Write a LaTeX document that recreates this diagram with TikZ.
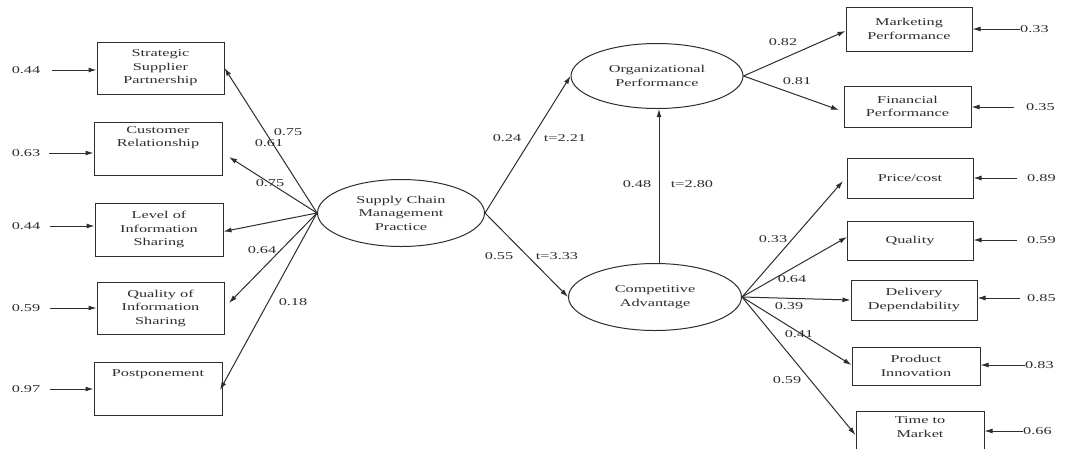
\documentclass[tikz,border=0pt]{standalone}
\usepackage{fontspec}
\setmainfont[FakeStretch=1.55]{Liberation Serif}
\usetikzlibrary{arrows.meta,shapes.geometric}
\definecolor{ink}{HTML}{2E2E2E}
\tikzset{
  every node/.style={text=ink, font=\fontsize{10.5}{13.5}\selectfont},
  line/.style={draw=ink, line width=1pt},
  arr/.style={line, -{Latex[length=8pt,width=5pt]}},
  obs/.style={draw=ink, line width=1pt, rectangle, align=center, inner sep=0pt},
  lat/.style={draw=ink, line width=1pt, ellipse, align=center, inner sep=0pt},
  coef/.style={inner sep=0pt},
  toptext/.style={anchor=north, inner sep=0pt, align=center},
}
\begin{document}
\begin{tikzpicture}[x=1pt,y=-1pt]
\clip (0,0) rectangle (1066,448);
\fill[white] (0,0) rectangle (1066,448);

% latent constructs
\node[lat, minimum width=167, minimum height=67] (scm) at (401,213) {Supply Chain\\Management\\Practice};
\node[lat, minimum width=172, minimum height=65] (op) at (657,76) {Organizational\\Performance};
\node[lat, minimum width=173, minimum height=67] (ca) at (655,297) {Competitive\\Advantage};

% indicators of supply chain management practice
\node[obs, minimum width=127, minimum height=52] (ssp) at (160.5,68) {Strategic\\Supplier\\Partnership};
\node[obs, minimum width=128, minimum height=53] (cr) at (158,148.5) {Customer\\Relationship\\[10pt]};
\node[obs, minimum width=128, minimum height=53] (lis) at (159,229.5) {Level of\\Information\\Sharing};
\node[obs, minimum width=127, minimum height=52] (qis) at (160.5,308) {Quality of\\Information\\Sharing};
\node[obs, minimum width=128, minimum height=53] (pp) at (158,388.5) {};
\node[toptext] at ([yshift=-8pt]pp.north) {Postponement};

% indicators of organizational performance
\node[obs, minimum width=126, minimum height=44] (mp) at (909,29) {Marketing\\Performance};
\node[obs, minimum width=127, minimum height=41] (fp) at (907.5,106.5) {Financial\\Performance};

% indicators of competitive advantage
\node[obs, minimum width=126, minimum height=40] (pc) at (910,178) {Price/cost};
\node[obs, minimum width=126, minimum height=39] (ql) at (910,240.5) {Quality};
\node[obs, minimum width=126, minimum height=40] (dd) at (914,300) {Delivery\\Dependability};
\node[obs, minimum width=128, minimum height=38] (pi) at (916,366) {Product\\Innovation};
\node[obs, minimum width=128, minimum height=44] (tm) at (920,433) {};
\node[toptext] at ([yshift=-6pt]tm.north) {Time to\\Market};

% error terms, left side
\node[coef] (e1) at (26,70) {0.44};
\node[coef] (e2) at (26,153) {0.63};
\node[coef] (e3) at (26,226) {0.44};
\node[coef] (e4) at (26,308) {0.59};
\node[coef] (e5) at (26,389) {0.97};
\draw[arr] ([xshift=12pt]e1.east) -- (ssp.west |- e1);
\draw[arr] ([xshift=9pt]e2.east) -- (cr.west |- e2);
\draw[arr] ([xshift=10pt]e3.east) -- (lis.west |- e3);
\draw[arr] ([xshift=10pt]e4.east) -- (qis.west |- e4);
\draw[arr] ([xshift=10pt]e5.east) -- (pp.west |- e5);

% error terms, right side
\node[coef, anchor=west] (e6) at (1020,29) {0.33};
\node[coef, anchor=west] (e7) at (1026,107) {0.35};
\node[coef, anchor=west] (e8) at (1027,178) {0.89};
\node[coef, anchor=west] (e9) at (1027,240) {0.59};
\node[coef, anchor=west] (e10) at (1027,298) {0.85};
\node[coef, anchor=west] (e11) at (1025,365) {0.83};
\node[coef, anchor=west] (e12) at (1023,431) {0.66};
\draw[arr] (e6.west) -- (mp.east |- e6);
\draw[arr] ([xshift=-12pt]e7.west) -- (fp.east |- e7);
\draw[arr] ([xshift=-10pt]e8.west) -- (pc.east |- e8);
\draw[arr] ([xshift=-10pt]e9.west) -- (ql.east |- e9);
\draw[arr] ([xshift=-7pt]e10.west) -- (dd.east |- e10);
\draw[arr] (e11.west) -- (pi.east |- e11);
\draw[arr] (e12.west) -- (tm.east |- e12);

% loadings of supply chain management practice
\coordinate (tcr) at (229,157);
\coordinate (tqis) at (229,303);
\coordinate (tpp) at (220,390);
\draw[arr] (scm.west) -- (ssp.east);
\draw[arr] (scm.west) -- (tcr);
\draw[arr] (scm.west) -- ([yshift=-2pt]lis.east);
\draw[arr] (scm.west) -- (tqis);
\draw[arr] (scm.west) -- (tpp);
\node[coef] at (288,132) {0.75};
\node[coef] at (269,143) {0.61};
\node[coef] at (270,183) {0.75};
\node[coef] at (262,250) {0.64};
\node[coef] at (293,302) {0.18};

% structural paths
\draw[arr] (scm.east) -- (op.west);
\draw[arr] (scm.east) -- (ca.west);
\draw[arr] (ca.north -| 659,0) -- (op.south -| 659,0);
\node[coef] at (507,138) {0.24};
\node[coef] at (565,138) {t=2.21};
\node[coef] at (499,256) {0.55};
\node[coef] at (557,256) {t=3.33};
\node[coef] at (637,184) {0.48};
\node[coef] at (692,184) {t=2.80};

% loadings of organizational performance
\coordinate (tfp) at (839,110);
\draw[arr] (op.east) -- ([yshift=-2pt]mp.west);
\draw[arr] (op.east) -- (tfp);
\node[coef] at (783,42) {0.82};
\node[coef] at (797,81) {0.81};

% loadings of competitive advantage
\coordinate (tpc) at (843,181);
\coordinate (tql) at (847,237);
\draw[arr] (ca.east) -- (tpc);
\draw[arr] (ca.east) -- (tql);
\draw[arr] (ca.east) -- (dd.west);
\draw[arr] (ca.east) -- ([yshift=1pt]pi.west);
\draw[arr] (ca.east) -- (tm.west |- 0,435);
\node[coef] at (773,239) {0.33};
\node[coef] at (792,279) {0.64};
\node[coef] at (789,306) {0.39};
\node[coef] at (799,334) {0.41};
\node[coef] at (787,380) {0.59};
\end{tikzpicture}
\end{document}
